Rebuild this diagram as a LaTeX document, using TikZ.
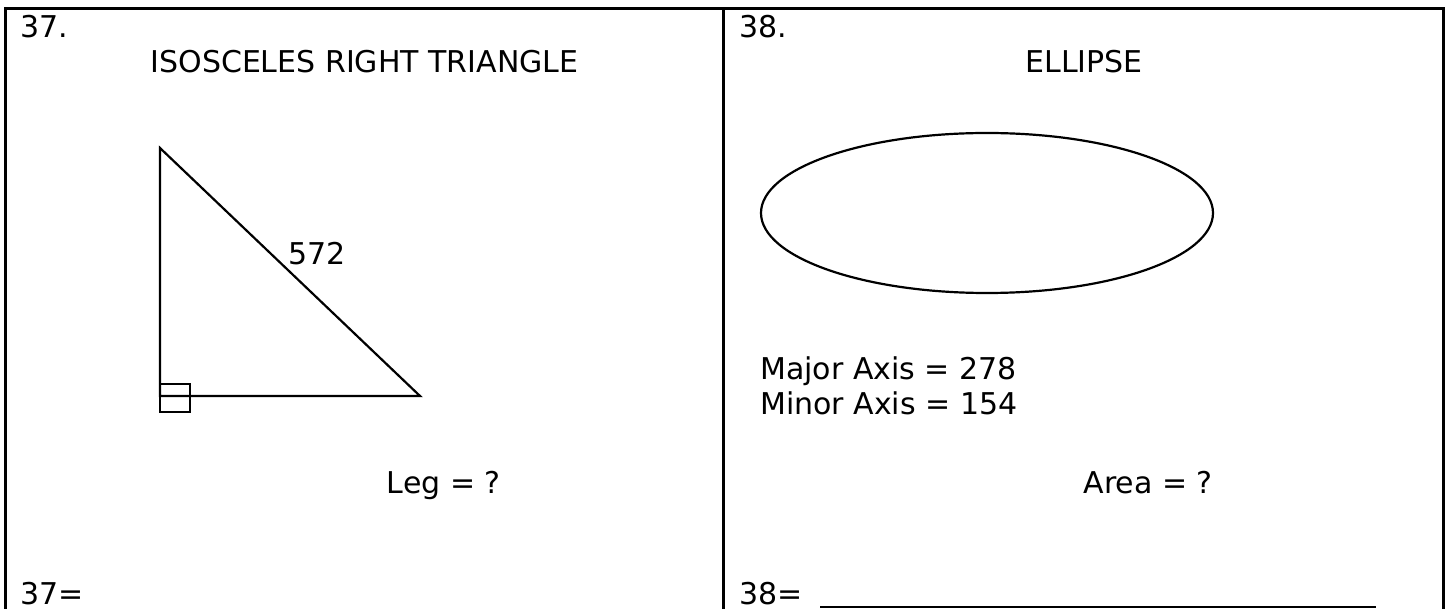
\documentclass[tikz,border=0pt]{standalone}
\usepackage{fontspec}
\setmainfont{DejaVu Sans}
\begin{document}
\begin{tikzpicture}[x=1pt,y=-1pt,
  lbl/.style={inner sep=0pt,font=\fontsize{30}{36}\selectfont},
  framestroke/.style={line width=3pt},
  figstroke/.style={line width=2.2pt}]
\useasboundingbox (0,0) rectangle (1452,609);
\clip (0,0) rectangle (1452,609);
% frame
\draw[framestroke] (5.5,700) -- (5.5,8.3) -- (1443,8.3) -- (1443,700);
\draw[framestroke] (723.5,8.3) -- (723.5,700);
% left panel
\node[lbl,anchor=base west] (n37) at (20.5,37.7) {37.};
\node[lbl,anchor=base] (t1) at (364.5,73) {ISOSCELES RIGHT TRIANGLE};
\coordinate (A) at (160,148);
\coordinate (B) at (160,396);
\coordinate (C) at (420,396);
\draw[figstroke,line join=miter] (A) -- (B) -- (C) -- cycle;
\draw[figstroke] (160,384) rectangle (190,412);
\node[lbl,anchor=base west] (hyp) at (288,265) {572};
\node[lbl,anchor=base east] (leg) at (501,494) {Leg = ?};
\node[lbl,anchor=base west] (a37) at (20.5,604.5) {37=};
% right panel
\node[lbl,anchor=base west] (n38) at (739,37.7) {38.};
\node[lbl,anchor=base] (t2) at (1084,73) {ELLIPSE};
\draw[figstroke] (987,213) ellipse [x radius=226,y radius=80];
\node[lbl,anchor=base west] (maj) at (760,380) {Major Axis = 278};
\node[lbl,anchor=base west] (min) at (760,415) {Minor Axis = 154};
\node[lbl,anchor=base east] (area) at (1213,494) {Area = ?};
\node[lbl,anchor=base west] (a38) at (739,604.5) {38=};
\coordinate (u1) at (820,607);
\coordinate (u2) at (1376,607);
\draw[line width=2pt] (u1) -- (u2);
\end{tikzpicture}
\end{document}
